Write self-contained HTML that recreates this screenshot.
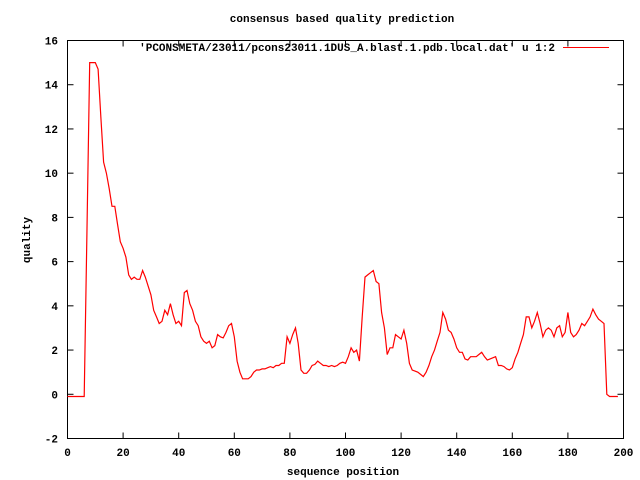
<!DOCTYPE html>
<html><head><meta charset="utf-8"><style>
body{margin:0;background:#fff}
svg{display:block}
text{font-family:"Liberation Mono","DejaVu Sans Mono",monospace;font-size:11px;font-weight:bold;fill:#000}
</style></head><body>
<svg id="chart" width="640" height="480" viewBox="0 0 640 480">
<text x="342" y="22" text-anchor="middle">consensus based quality prediction</text>
<rect x="67.5" y="40.5" width="556" height="398" fill="none" stroke="#000" stroke-width="1"/>
<g id="axes"></g>
<text transform="translate(30,240) rotate(-90)" text-anchor="middle">quality</text>
<text x="343" y="475" text-anchor="middle">sequence position</text>
<text x="555" y="51" text-anchor="end">'PCONSMETA/23011/pcons23011.1DUS_A.blast.1.pdb.local.dat' u 1:2</text>
<line x1="563" y1="47.5" x2="609" y2="47.5" stroke="#f00" stroke-width="1"/>
<path id="series" fill="none" stroke="#f00" stroke-width="1.2"/>
</svg>
<script>
const xTicks=[0,20,40,60,80,100,120,140,160,180,200];
const yTicks=[-2,0,2,4,6,8,10,12,14,16];
const quality=[-0.1,-0.1,-0.1,-0.1,-0.1,-0.1,-0.1,7.5,15,15,15,14.7,12.5,10.5,10,9.3,8.5,8.5,7.7,6.9,6.6,6.2,5.4,5.2,5.3,5.2,5.2,5.6,5.3,4.9,4.5,3.8,3.5,3.2,3.3,3.8,3.6,4.1,3.6,3.2,3.3,3.1,4.6,4.7,4.1,3.8,3.3,3.1,2.6,2.4,2.3,2.4,2.1,2.2,2.7,2.6,2.55,2.8,3.1,3.2,2.6,1.5,1.0,0.7,0.7,0.7,0.8,1.0,1.1,1.1,1.15,1.15,1.2,1.25,1.2,1.3,1.3,1.4,1.4,2.6,2.3,2.7,3.0,2.3,1.1,0.95,0.95,1.1,1.3,1.35,1.5,1.4,1.3,1.3,1.25,1.3,1.25,1.3,1.4,1.45,1.4,1.7,2.1,1.9,2.0,1.5,3.5,5.3,5.4,5.5,5.6,5.1,5.0,3.7,3.0,1.8,2.1,2.1,2.7,2.6,2.5,2.9,2.3,1.4,1.1,1.05,1.0,0.9,0.8,1.0,1.3,1.7,2.0,2.4,2.8,3.7,3.4,2.9,2.8,2.5,2.1,1.9,1.9,1.6,1.55,1.7,1.7,1.7,1.8,1.9,1.7,1.55,1.6,1.65,1.7,1.3,1.3,1.25,1.15,1.1,1.2,1.6,1.9,2.3,2.7,3.5,3.5,3.0,3.3,3.7,3.2,2.6,2.9,3.0,2.9,2.6,3.0,3.1,2.6,2.8,3.7,2.8,2.6,2.7,2.9,3.2,3.1,3.3,3.5,3.85,3.6,3.4,3.3,3.2,0.0,-0.1,-0.1,-0.1,-0.1];
const positions=quality.map((v,i)=>i);
const X0=67.5,X1=623.5,Y0=438.5,Y1=40.5;
const sx=v=>X0+(v-0)/(200-0)*(X1-X0);
const sy=v=>Y0-(v-(-2))/(16-(-2))*(Y0-Y1);
const NS="http://www.w3.org/2000/svg";
const axes=document.getElementById('axes');
function mk(tag,attrs){const e=document.createElementNS(NS,tag);for(const k in attrs)e.setAttribute(k,attrs[k]);return e;}
xTicks.forEach(t=>{
  const x=sx(t);
  const a=mk('line',{x1:x,y1:Y0,x2:x,y2:Y0-6,stroke:'#000'});
  
  
  axes.appendChild(a);
  const b=mk('line',{x1:x,y1:Y1,x2:x,y2:Y1+6,stroke:'#000'});
  
  
  axes.appendChild(b);
  const l=mk('text',{x:x,y:456,'text-anchor':'middle'});
  
  
  l.textContent=t;axes.appendChild(l);
});
yTicks.forEach(t=>{
  const y=sy(t);
  const a=mk('line',{x1:X0,y1:y,x2:X0+6,y2:y,stroke:'#000'});
  
  
  axes.appendChild(a);
  const b=mk('line',{x1:X1,y1:y,x2:X1-6,y2:y,stroke:'#000'});
  
  
  axes.appendChild(b);
  const l=mk('text',{x:58,y:y+4,'text-anchor':'end'});
  
  
  l.textContent=t;axes.appendChild(l);
});
document.getElementById('series').setAttribute('d',quality.map((v,i)=>(i?'L':'M')+sx(positions[i]).toFixed(1)+','+sy(v).toFixed(1)).join(''));
</script>
</body></html>
